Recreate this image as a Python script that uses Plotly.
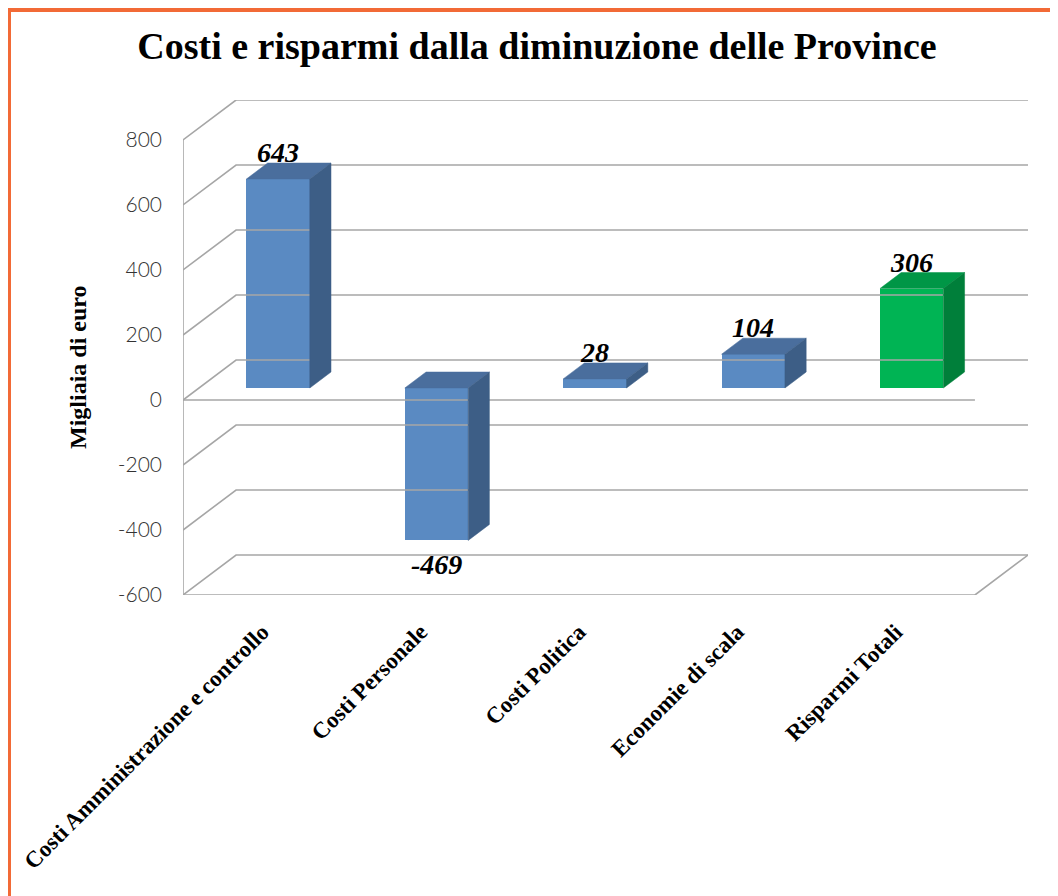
import plotly.graph_objects as go

# ---- data ----
categories = ["Costi Amministrazione e controllo", "Costi Personale", "Costi Politica",
              "Economie di scala", "Risparmi Totali"]
values = [643, -469, 28, 104, 306]
labels = ["643", "-469", "28", "104", "306"]
y_ticks = [-600, -400, -200, 0, 200, 400, 600, 800]
y_tick_text = ["-600", "-400", "-200", "0", "200", "400", "600", "800"]

# ---- styling / geometry ----
OFF = 8                                    # page body margin compensation
W, H_PX = 1058 - OFF, 896 - OFF
L, R, T, B = 183 - OFF, 1028 - OFF, 100 - OFF, 595 - OFF   # plot-area pixel box
D = 0.335                                  # depth offset in category units
HD = 123.0                                 # depth offset in value units
F1, F2 = 0.30, 0.70                        # bar front / back depth fractions
BW = 0.4
ymin, ymax = -600, 800
xr = [-0.5, 4.5 + D]
yr = [ymin, ymax + HD]

front_col = ["#5A8AC2", "#5A8AC2", "#5A8AC2", "#5A8AC2", "#00B454"]
top_col = ["#4A6E9D", "#4A6E9D", "#4A6E9D", "#4A6E9D", "#009646"]
side_col = ["#3D5E86", "#3D5E86", "#3D5E86", "#3D5E86", "#007F3A"]
grid_col = "#A6A6A6"

fig = go.Figure()

# gridlines: back wall + left side wall diagonals
for v in y_ticks:
    fig.add_trace(go.Scatter(x=[-0.5, -0.5 + D, 4.5 + D], y=[v, v + HD, v + HD],
                             mode="lines", line=dict(color=grid_col, width=1.6),
                             hoverinfo="skip", showlegend=False))
# front vertical axis, floor front edge and right floor diagonal, front zero line
fig.add_trace(go.Scatter(x=[-0.5, -0.5], y=[ymin, ymax], mode="lines",
                         line=dict(color=grid_col, width=1.6), hoverinfo="skip", showlegend=False))
fig.add_trace(go.Scatter(x=[-0.5, 4.5, 4.5 + D], y=[ymin, ymin, ymin + HD], mode="lines",
                         line=dict(color=grid_col, width=1.6), hoverinfo="skip", showlegend=False))
fig.add_trace(go.Scatter(x=[-0.5, 4.5], y=[0, 0], mode="lines",
                         line=dict(color=grid_col, width=1.6), hoverinfo="skip", showlegend=False))

# 3D faces (top + side) of bars
dd = (F2 - F1) * D
dh = (F2 - F1) * HD
for i, v in enumerate(values):
    xc = i + F1 * D
    x0, x1 = xc - BW / 2, xc + BW / 2
    ytop = max(v, 0) + F1 * HD
    ybot = min(v, 0) + F1 * HD
    # top face
    fig.add_trace(go.Scatter(x=[x0, x1, x1 + dd, x0 + dd, x0],
                             y=[ytop, ytop, ytop + dh, ytop + dh, ytop],
                             fill="toself", fillcolor=top_col[i], mode="lines",
                             line=dict(color=top_col[i], width=0.5),
                             hoverinfo="skip", showlegend=False))
    # side face
    fig.add_trace(go.Scatter(x=[x1, x1 + dd, x1 + dd, x1, x1],
                             y=[ybot, ybot + dh, ytop + dh, ytop, ybot],
                             fill="toself", fillcolor=side_col[i], mode="lines",
                             line=dict(color=side_col[i], width=0.5),
                             hoverinfo="skip", showlegend=False))

# front faces
fig.add_trace(go.Bar(x=[i + F1 * D for i in range(len(values))], y=values, base=F1 * HD,
                     width=BW, marker=dict(color=front_col, line=dict(width=0)),
                     hoverinfo="skip", showlegend=False))

# value labels
lab_font = dict(family="Liberation Serif", size=28, color="black", weight="bold", style="italic")
for i, v in enumerate(values):
    xc = i + F1 * D
    if v >= 0:
        fig.add_annotation(x=xc, y=v + F2 * HD, text=labels[i], showarrow=False,
                           yanchor="bottom", yshift=-7, font=lab_font)
    else:
        fig.add_annotation(x=xc, y=v + F1 * HD, text=labels[i], showarrow=False,
                           yanchor="top", yshift=-7, font=lab_font)


def px_x(p):
    return (p - OFF - L) / (R - L)


def px_y(p):
    return (B - (p - OFF)) / (B - T)


# y-axis title
fig.add_annotation(xref="paper", yref="paper", x=px_x(63), y=px_y(367), text="Migliaia di euro",
                   textangle=-90, showarrow=False,
                   font=dict(family="Liberation Serif", size=24, color="black", weight="bold"))

# orange frame (top and left edges visible)
border = "#F26A36"
fig.add_shape(type="line", xref="paper", yref="paper", x0=px_x(3), x1=px_x(1070),
              y0=px_y(9), y1=px_y(9), line=dict(color=border, width=6))
fig.add_shape(type="line", xref="paper", yref="paper", x0=px_x(8), x1=px_x(8),
              y0=px_y(6), y1=px_y(910), line=dict(color=border, width=6))

fig.update_layout(
    width=W, height=H_PX,
    margin=dict(l=L, r=W - R, t=T, b=H_PX - B),
    paper_bgcolor="white", plot_bgcolor="white",
    title=dict(text="Costi e risparmi dalla diminuzione delle Province",
               x=(537 - OFF) / W, xanchor="center", xref="container",
               y=1 - (46 - OFF) / H_PX, yanchor="middle",
               font=dict(family="Liberation Serif", size=38, color="black", weight="bold")),
    bargap=0,
)
fig.update_xaxes(range=xr, tickvals=list(range(len(categories))), ticktext=categories,
                 tickangle=-45, showgrid=False, zeroline=False, showline=False,
                 ticks="", ticklabelstandoff=18,
                 tickfont=dict(family="Liberation Serif", size=23, color="black", weight="bold"))
fig.update_yaxes(range=yr, tickvals=y_ticks, ticktext=y_tick_text, showgrid=False,
                 zeroline=False, showline=False, ticks="", ticklabelstandoff=20,
                 tickfont=dict(family="Lato", size=21, color="#333333", weight=300))

fig.write_html("out.html")
